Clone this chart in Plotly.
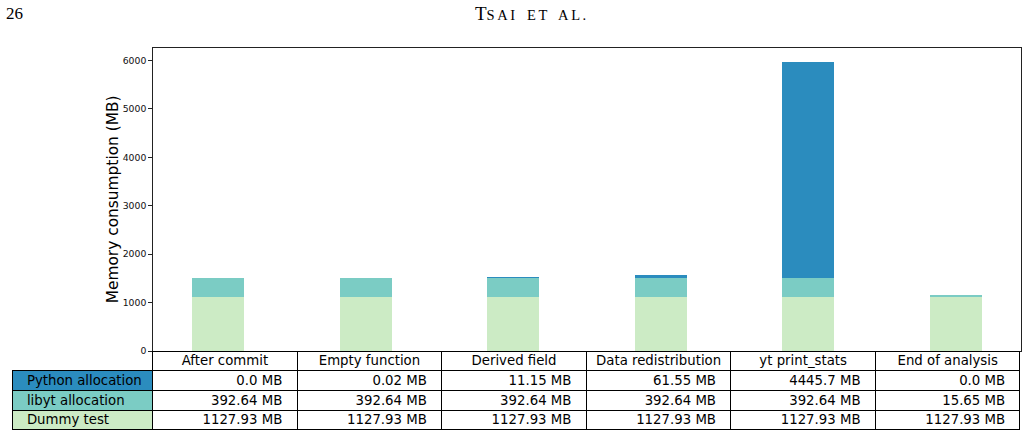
import plotly.graph_objects as go

W, H = 1028, 437

stages = ["After commit", "Empty function", "Derived field",
          "Data redistribution", "yt print_stats", "End of analysis"]
series_names = ["Python allocation", "libyt allocation", "Dummy test"]
python_alloc = [0.0, 0.02, 11.15, 61.55, 4445.7, 0.0]
libyt_alloc = [392.64, 392.64, 392.64, 392.64, 392.64, 15.65]
dummy_test = [1127.93, 1127.93, 1127.93, 1127.93, 1127.93, 1127.93]
colors = {"Python allocation": "#2b8cbe",
          "libyt allocation": "#7bccc4",
          "Dummy test": "#ccebc5"}
y_ticks = [0, 1000, 2000, 3000, 4000, 5000, 6000]

FONT = "DejaVu Sans"
NB = "\u00a0"
CLEAR = "rgba(0,0,0,0)"

def px_x(p):
    return p / W

def px_y(p):
    return 1 - p / H

def nobreak(s):
    return s.replace(" ", NB)

# plot area (pixels)
PL, PR, PT, PB = 152.7, 1020.7, 47.7, 351.0
# table area
TL = 12.0
ROWH = 19.7
TEXT_LIFT = 3.6

fig = go.Figure()
xs = list(range(len(stages)))
for name, vals in [("Dummy test", dummy_test),
                   ("libyt allocation", libyt_alloc),
                   ("Python allocation", python_alloc)]:
    fig.add_trace(go.Bar(x=xs, y=vals, width=0.35, name=name,
                         marker=dict(color=colors[name], line=dict(width=0)),
                         showlegend=False, hoverinfo="skip"))

ymax = max(a + b + c for a, b, c in zip(python_alloc, libyt_alloc, dummy_test)) * 1.05

pad_l = NB + "\u2009"
pad_r = "\u2009" + NB
rows = [python_alloc, libyt_alloc, dummy_test]
cell_cols = [[pad_l + nobreak(n) for n in series_names]]
for j in range(len(stages)):
    cell_cols.append([nobreak(f"{r[j]} MB") + pad_r for r in rows])
header_vals = [""] + [nobreak(s) for s in stages]

fills = [[colors[n] for n in series_names]] + [["white"] * 3 for _ in stages]
colw_label = PL - TL
colw = (PR - PL) / len(stages)
ncol = len(stages) + 1
tfont = dict(family=FONT, size=13.3, color="black")

# grid: fills and borders
fig.add_trace(go.Table(
    domain=dict(x=[px_x(TL), px_x(PR)], y=[px_y(PB + 4 * ROWH + 5), px_y(PB)]),
    columnwidth=[colw_label] + [colw] * len(stages),
    header=dict(values=[""] * ncol,
                fill=dict(color=[CLEAR] + ["white"] * len(stages)),
                line=dict(color=[CLEAR] + ["black"] * len(stages), width=1),
                height=ROWH, font=tfont),
    cells=dict(values=[[""] * 3 for _ in range(ncol)],
               fill=dict(color=fills),
               line=dict(color="black", width=1),
               height=ROWH, font=tfont),
))

# text layer, nudged up so the text sits centred in the cells
fig.add_trace(go.Table(
    domain=dict(x=[px_x(TL), px_x(PR)],
                y=[px_y(PB + 4 * ROWH + 5 - TEXT_LIFT), px_y(PB - TEXT_LIFT)]),
    columnwidth=[colw_label] + [colw] * len(stages),
    header=dict(values=header_vals,
                fill=dict(color=CLEAR), line=dict(color=CLEAR, width=0),
                align="center", height=ROWH, font=tfont),
    cells=dict(values=cell_cols,
               fill=dict(color=CLEAR), line=dict(color=CLEAR, width=0),
               align=["left"] + ["right"] * len(stages),
               height=ROWH, font=tfont),
))

fig.update_layout(
    width=W, height=H,
    margin=dict(l=0, r=0, t=0, b=0, autoexpand=False),
    paper_bgcolor="white", plot_bgcolor="white",
    barmode="stack", bargap=0,
    xaxis=dict(domain=[px_x(PL), px_x(PR)], range=[-0.4425, 5.4425],
               automargin=False,
               showticklabels=False, ticks="", showgrid=False, zeroline=False,
               showline=True, mirror=True, linecolor="#222", linewidth=1),
    yaxis=dict(domain=[px_y(PB), px_y(PT)], range=[0, ymax],
               automargin=False,
               tickvals=y_ticks, ticks="outside", ticklen=3.5, tickwidth=1,
               tickcolor="#222",
               tickfont=dict(family=FONT, size=9.3, color="#111"),
               showgrid=False, zeroline=False,
               showline=True, mirror=True, linecolor="#222", linewidth=1,
               title=dict(text="Memory consumption (MB)", standoff=0,
                          font=dict(family=FONT, size=15.4, color="black"))),
    annotations=[
        dict(text="26", x=px_x(4), y=px_y(13.5), xref="paper", yref="paper",
             xanchor="left", yanchor="middle", showarrow=False,
             font=dict(family="Liberation Serif", size=17, color="black")),
        dict(text="T<span style='font-size:14.5px;letter-spacing:2.6px;word-spacing:3px'>SAI"
                  + " ET AL.</span>",
             x=px_x(532), y=px_y(13.5), xref="paper", yref="paper",
             xanchor="center", yanchor="middle", showarrow=False,
             font=dict(family="Liberation Serif", size=19, color="black")),
    ],
)

fig.write_html("out.html")
